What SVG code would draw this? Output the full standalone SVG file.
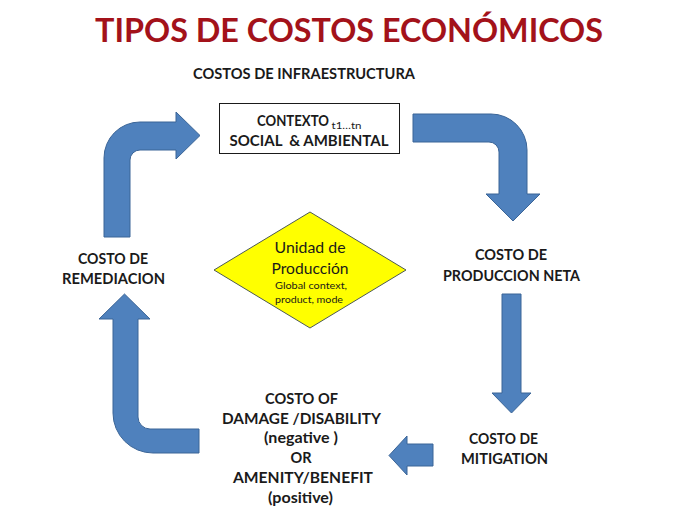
<svg xmlns="http://www.w3.org/2000/svg" width="689" height="517" viewBox="0 0 689 517">
<style>
.b{font-family:Lato,"Open Sans","Liberation Sans",sans-serif;font-weight:bold;font-size:14.5px;fill:#1a1a1a;text-anchor:middle}
.r{font-family:Lato,"Open Sans","Liberation Sans",sans-serif;font-weight:normal;fill:#1a1a1a;text-anchor:middle}
.arrow{fill:#4F81BD;stroke:#3B6597;stroke-width:1}
</style>
<rect width="689" height="517" fill="#ffffff"/>
<g id="title">
<text x="349" y="42" class="b" style="font-size:33px;fill:#A3121A" textLength="508" lengthAdjust="spacingAndGlyphs">TIPOS DE COSTOS ECONÓMICOS</text>
</g>
<g id="infraestructura">
<text x="304" y="79" class="b" textLength="222" lengthAdjust="spacingAndGlyphs">COSTOS DE INFRAESTRUCTURA</text>
</g>
<g id="contexto">
<rect x="219.5" y="103.5" width="180" height="50" fill="#ffffff" stroke="#1a1a1a" stroke-width="1"/>
<text x="257" y="126" class="b" style="text-anchor:start"><tspan textLength="72" lengthAdjust="spacingAndGlyphs">CONTEXTO</tspan><tspan dx="2.5" dy="3" style="font-weight:normal;font-size:9px" textLength="30" lengthAdjust="spacingAndGlyphs">t1…tn</tspan></text>
<text x="309" y="146" class="b" style="white-space:pre" textLength="159" lengthAdjust="spacingAndGlyphs">SOCIAL  &amp; AMBIENTAL</text>
</g>
<g id="unidad">
<polygon points="310,212 406,270 310,328 214,270" fill="#FFFF00" stroke="#4d5a55" stroke-width="1"/>
<text x="310" y="253" class="r" style="font-size:15.5px" textLength="71" lengthAdjust="spacingAndGlyphs">Unidad de</text>
<text x="310" y="274" class="r" style="font-size:15.5px" textLength="77" lengthAdjust="spacingAndGlyphs">Producción</text>
<text x="311" y="289" class="r" style="font-size:9.5px" textLength="72" lengthAdjust="spacingAndGlyphs">Global context,</text>
<text x="309" y="303" class="r" style="font-size:9.5px" textLength="68" lengthAdjust="spacingAndGlyphs">product, mode</text>
</g>
<g id="produccion">
<text x="511" y="260" class="b" textLength="72" lengthAdjust="spacingAndGlyphs">COSTO DE</text>
<text x="511.5" y="281" class="b" textLength="137" lengthAdjust="spacingAndGlyphs">PRODUCCION NETA</text>
</g>
<g id="mitigation">
<text x="503.5" y="444" class="b" textLength="69" lengthAdjust="spacingAndGlyphs">COSTO DE</text>
<text x="504.5" y="464" class="b" textLength="87" lengthAdjust="spacingAndGlyphs">MITIGATION</text>
</g>
<g id="damage">
<text x="301.5" y="404" class="b" textLength="73" lengthAdjust="spacingAndGlyphs">COSTO OF</text>
<text x="301.5" y="424" class="b" textLength="159" lengthAdjust="spacingAndGlyphs">DAMAGE /DISABILITY</text>
<text x="301" y="443" class="b" style="white-space:pre" textLength="74" lengthAdjust="spacingAndGlyphs">(negative )</text>
<text x="301" y="463" class="b">OR</text>
<text x="303" y="483" class="b" textLength="140" lengthAdjust="spacingAndGlyphs">AMENITY/BENEFIT</text>
<text x="300.5" y="503" class="b" textLength="65" lengthAdjust="spacingAndGlyphs">(positive)</text>
</g>
<g id="remediacion">
<text x="113" y="264" class="b" textLength="70" lengthAdjust="spacingAndGlyphs">COSTO DE</text>
<text x="113.5" y="284" class="b" textLength="103" lengthAdjust="spacingAndGlyphs">REMEDIACION</text>
</g>
<g id="connectors">
<path class="arrow" d="M104,237 L104,158 A36,36 0 0 1 140,122 L176,122 L176,112 L200,135.5 L176,159 L176,150 L140,150 A10,10 0 0 0 130,160 L130,237 Z"/>
<path class="arrow" d="M413,114 L491,114 A36,36 0 0 1 527,150 L527,194 L540,194 L513,221 L486,194 L499,194 L499,152 A10,10 0 0 0 489,142 L413,142 Z"/>
<path class="arrow" d="M502,294 L521,294 L521,393 L531,393 L511.5,413 L492,393 L502,393 Z"/>
<path class="arrow" d="M433,444 L433,466 L407,466 L407,475 L389,455.5 L407,436 L407,444 Z"/>
<path class="arrow" d="M199,429 L150,429 A12,12 0 0 1 138,417 L138,319 L150,319 L124.5,294 L99,319 L113,319 L113,413 A40,40 0 0 0 153,453 L199,453 Z"/>
</g>
</svg>
